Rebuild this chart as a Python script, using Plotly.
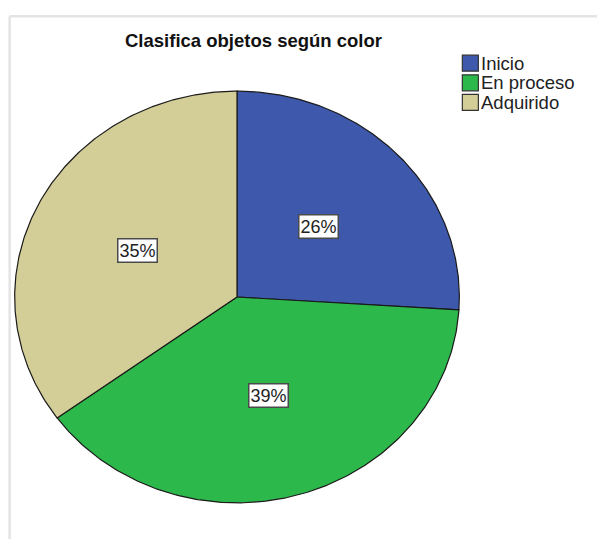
import numpy as np
import plotly.graph_objects as go

# Data
categories = ["Inicio", "En proceso", "Adquirido"]
percentages = [26, 39, 35]
colors = ["#3E58AC", "#2DB84B", "#D3CD98"]
title_text = "Clasifica objetos según color"

W, H = 597, 539
# Pie geometry in pixels (slightly elliptical)
cx, cy, rx, ry = 237, 297, 222, 206
pad = 1.03

ml = cx - pad * rx
mr = W - (cx + pad * rx)
mt = cy - pad * ry
mb = H - (cy + pad * ry)
pw = W - ml - mr
ph = H - mt - mb


def px_to_paper(x, y):
    return (x - ml) / pw, (H - mb - y) / ph


fig = go.Figure()

total = sum(percentages)
start = 0.0
for name, val, col in zip(categories, percentages, colors):
    frac0 = start / total
    frac1 = (start + val) / total
    # angle measured clockwise from 12 o'clock
    angs = np.linspace(frac0, frac1, 200) * 2 * np.pi
    xs = np.concatenate([[0], np.sin(angs), [0]])
    ys = np.concatenate([[0], np.cos(angs), [0]])
    fig.add_trace(go.Scatter(
        x=xs, y=ys, mode="lines", fill="toself", fillcolor=col,
        line=dict(color="#1a1a1a", width=1.2), name=name,
        showlegend=False, hoverinfo="skip",
    ))
    mid = (frac0 + frac1) / 2 * 2 * np.pi
    fig.add_annotation(
        x=0.5 * np.sin(mid), y=0.5 * np.cos(mid), xref="x", yref="y",
        text=f"{val}%", showarrow=False,
        font=dict(family="Liberation Sans, Arial", size=18, color="#222"),
        bgcolor="white", bordercolor="#4a4a4a", borderwidth=1.5, borderpad=1,
    )
    start += val

# Title
tx, ty = px_to_paper(253, 40)
fig.add_annotation(
    x=tx, y=ty, xref="paper", yref="paper", text=f"<b>{title_text}</b>",
    showarrow=False, xanchor="center", yanchor="middle",
    font=dict(family="Liberation Sans, Arial", size=18.5, color="#111"),
)

# Legend drawn as boxes with labels
for i, (name, col) in enumerate(zip(categories, colors)):
    yc = 63 + i * 19.6
    x0, y0 = px_to_paper(462, yc - 8)
    x1, y1 = px_to_paper(478, yc + 8)
    fig.add_shape(type="rect", xref="paper", yref="paper",
                  x0=x0, x1=x1, y0=y1, y1=y0, fillcolor=col,
                  line=dict(color="#333", width=1.2))
    lx, ly = px_to_paper(479, yc)
    fig.add_annotation(
        x=lx, y=ly, xref="paper", yref="paper", text=name, showarrow=False,
        xanchor="left", yanchor="middle",
        font=dict(family="Liberation Sans, Arial", size=18.5, color="#222"),
    )

# Outer frame lines (left and top)
fx0, fy0 = px_to_paper(10, 16)
fx1, fy1 = px_to_paper(W + 5, H + 5)
fig.add_shape(type="line", xref="paper", yref="paper",
              x0=fx0, x1=fx0, y0=fy0, y1=fy1,
              line=dict(color="#e4e4e4", width=2.5))
fig.add_shape(type="line", xref="paper", yref="paper",
              x0=fx0, x1=fx1, y0=fy0, y1=fy0,
              line=dict(color="#e4e4e4", width=2.5))

fig.update_xaxes(range=[-pad, pad], visible=False, fixedrange=True)
fig.update_yaxes(range=[-pad, pad], visible=False, fixedrange=True)
fig.update_layout(
    width=W, height=H,
    margin=dict(l=ml, r=mr, t=mt, b=mb, pad=0),
    plot_bgcolor="white", paper_bgcolor="white",
    showlegend=False,
)

fig.write_html("out.html")
